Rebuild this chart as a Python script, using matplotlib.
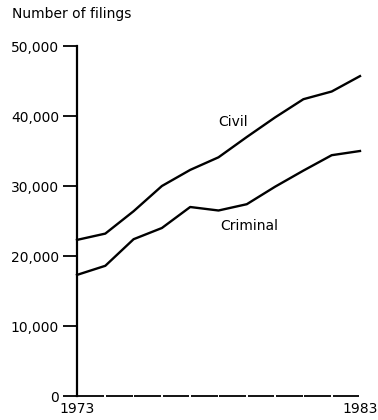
import matplotlib
matplotlib.use("Agg")
import matplotlib.pyplot as plt

years = [1973, 1974, 1975, 1976, 1977, 1978, 1979, 1980, 1981, 1982, 1983]
civil = [22300, 23200, 26400, 30000, 32300, 34100, 37000, 39800, 42400, 43500, 45700]
criminal = [17300, 18600, 22400, 24000, 27000, 26500, 27400, 29900, 32200, 34400, 35000]
yticks = [0, 10000, 20000, 30000, 40000, 50000]
ytick_labels = ["0", "10,000", "20,000", "30,000", "40,000", "50,000"]
xtick_years = [1973, 1983]
title = "Number of filings"

plt.rcParams['font.family'] = ['DejaVu Sans']
fig = plt.figure(figsize=(3.78, 4.2), dpi=100)
ax = fig.add_axes([77/378, 24/420, 283/378, 350/420])

ax.plot(years, civil, color="black", lw=1.7, solid_joinstyle="round", clip_on=False)
ax.plot(years, criminal, color="black", lw=1.7, solid_joinstyle="round", clip_on=False)

# dashed baseline: one segment per year
for a, b in zip(years[:-1], years[1:]):
    ax.plot([a + 0.03, b - 0.03], [0, 0], color="black", lw=1.3, clip_on=False,
            solid_capstyle="butt")

ax.set_xlim(1973, 1983)
ax.set_ylim(0, 50000)
for s in ["top", "right", "bottom"]:
    ax.spines[s].set_visible(False)
ax.spines["left"].set_linewidth(1.6)

ax.set_yticks(yticks)
ax.set_yticklabels(ytick_labels, fontsize=10)
ax.tick_params(axis="y", direction="out", length=10, width=1.3, pad=3)
ax.set_xticks(xtick_years)
ax.set_xticklabels([str(y) for y in xtick_years], fontsize=10)
ax.tick_params(axis="x", length=0, pad=4)

ax.text(1978.5, 39100, "Civil", fontsize=10, ha="center", va="center")
ax.text(1979.1, 24300, "Criminal", fontsize=10, ha="center", va="center")

fig.text(12/378, 1 - 14/420, title, fontsize=10, ha="left", va="center")

fig.savefig("out.png", dpi=100, facecolor="white")
